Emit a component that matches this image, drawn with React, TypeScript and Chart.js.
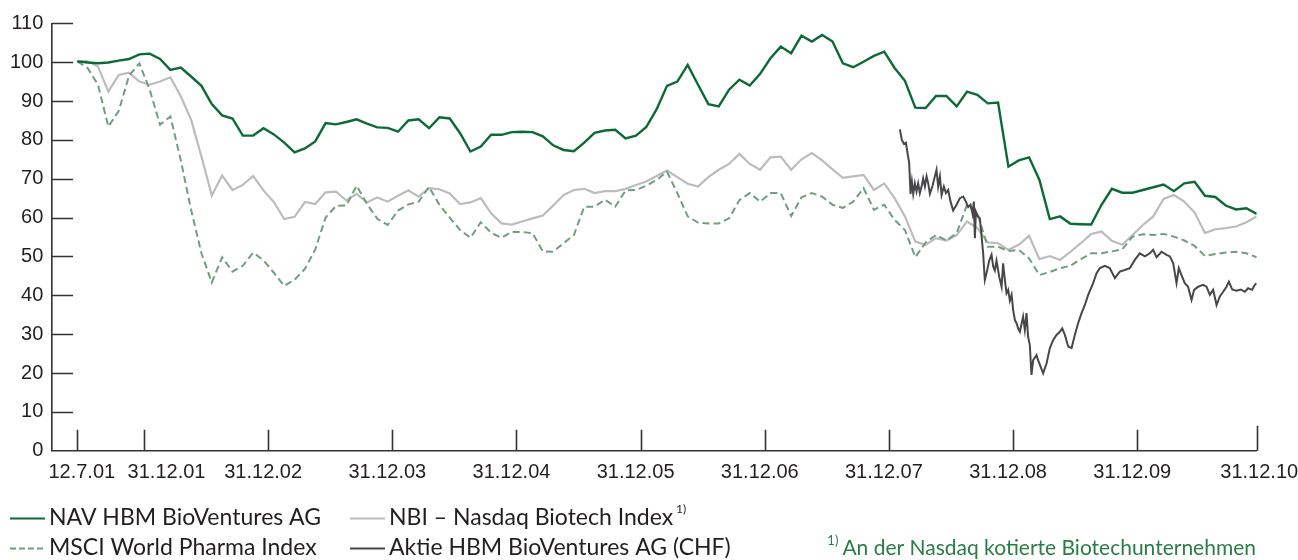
import React, { useEffect, useRef } from "react";
import { Chart, registerables } from "chart.js";

Chart.register(...registerables);

// ---- data (monthly index k = 0 .. 114, first point = 12.7.01) ----
const TICK_LABELS = ["12.7.01", "31.12.01", "31.12.02", "31.12.03", "31.12.04", "31.12.05", "31.12.06", "31.12.07", "31.12.08", "31.12.09", "31.12.10"];
const TICK_POS = [0, 6.45, 18.45, 30.45, 42.45, 54.45, 66.45, 78.45, 90.45, 102.45, 114];
const Y_TICKS = [0, 10, 20, 30, 40, 50, 60, 70, 80, 90, 100, 110];

const NAV = [
  100.2, 99.9, 99.7, 99.9, 100.4, 100.8, 102.0, 102.2, 100.8, 98.0,
  98.6, 96.3, 93.9, 89.2, 86.3, 85.5, 81.1, 81.1, 83.0, 81.4,
  79.3, 76.8, 77.8, 79.6, 84.3, 84.0, 84.6, 85.3, 84.2, 83.2,
  83.1, 82.1, 85.0, 85.3, 83.0, 85.8, 85.5, 81.7, 77.0, 78.3,
  81.3, 81.3, 82.0, 82.1, 82.0, 80.9, 78.6, 77.4, 77.1, 79.3,
  81.8, 82.4, 82.6, 80.4, 81.1, 83.3, 87.9, 93.9, 95.0, 99.3,
  94.2, 89.2, 88.6, 92.9, 95.5, 94.0, 97.0, 101.0, 104.0, 102.3,
  106.8, 105.3, 107.0, 105.3, 99.7, 98.7, 100.1, 101.6, 102.7, 98.5,
  95.2, 88.3, 88.2, 91.3, 91.3, 88.6, 92.4, 91.6, 89.4, 89.6,
  73.1, 74.7, 75.5, 69.7, 59.6, 60.3, 58.4, 58.3, 58.2, 63.3,
  67.4, 66.4, 66.4, 67.1, 67.8, 68.5, 66.8, 68.8, 69.2, 65.6,
  65.3, 63.1, 62.1, 62.4, 60.9,
];

const NBI = [
  100.2, 100.3, 98.9, 92.4, 96.7, 97.3, 95.0, 94.2, 95.0, 96.1,
  91.2, 85.2, 75.7, 65.7, 70.8, 67.1, 68.4, 70.7, 67.0, 64.0,
  59.6, 60.2, 64.0, 63.5, 66.5, 66.7, 64.4, 66.1, 63.9, 65.2,
  64.1, 65.6, 67.0, 65.4, 67.6, 67.3, 66.2, 63.5, 63.9, 65.0,
  61.1, 58.5, 58.2, 59.0, 59.8, 60.5, 63.1, 65.8, 67.1, 67.4,
  66.3, 66.8, 66.8, 67.4, 68.4, 69.3, 70.7, 72.1, 70.4, 68.7,
  68.0, 70.4, 72.3, 73.8, 76.4, 73.8, 72.3, 75.5, 75.7, 72.3,
  75.0, 76.6, 74.7, 72.4, 70.2, 70.6, 71.0, 67.1, 68.8, 65.0,
  60.3, 53.8, 53.0, 54.7, 54.1, 55.5, 59.0, 57.3, 53.6, 53.4,
  51.7, 53.0, 55.3, 49.3, 50.1, 49.1, 51.2, 53.4, 55.8, 56.4,
  54.0, 53.0, 55.5, 58.1, 60.3, 64.8, 65.8, 64.1, 61.3, 56.0,
  57.0, 57.3, 57.7, 58.8, 60.3,
];

const MSCI = [
  100.2, 98.5, 94.2, 83.4, 87.4, 96.5, 99.7, 92.9, 83.9, 86.0,
  74.8, 62.0, 50.8, 43.3, 49.8, 46.1, 47.6, 51.0, 49.0, 45.8,
  42.4, 44.0, 46.8, 51.8, 60.0, 63.0, 63.1, 68.2, 63.5, 59.7,
  58.1, 61.8, 63.4, 64.1, 67.9, 63.3, 60.0, 56.8, 54.8, 58.8,
  56.1, 54.8, 56.3, 56.3, 56.0, 51.3, 51.2, 53.4, 55.5, 62.8,
  62.8, 64.6, 62.8, 67.0, 67.1, 68.2, 69.7, 71.8, 66.3, 60.3,
  58.7, 58.5, 58.5, 59.8, 64.5, 66.3, 64.1, 66.3, 66.3, 60.4,
  65.2, 66.3, 65.4, 63.3, 62.5, 64.1, 67.6, 62.0, 63.3, 59.4,
  56.8, 49.8, 53.6, 55.5, 54.1, 56.0, 63.3, 61.1, 52.5, 52.5,
  51.4, 51.7, 49.5, 45.2, 46.0, 47.0, 47.6, 49.3, 50.8, 50.8,
  51.3, 51.8, 55.1, 55.7, 55.5, 55.8, 55.1, 54.1, 52.7, 50.1,
  50.6, 51.0, 51.2, 50.8, 49.8,
];

// Aktie HBM BioVentures AG (CHF): daily quote, sampled (x in month index)
const AKTIE_X = [
  79.51, 79.70, 79.90, 80.09, 80.25, 80.41, 80.54, 80.67, 80.80, 80.96,
  81.12, 81.28, 81.44, 81.64, 81.76, 81.93, 82.09, 82.25, 82.41, 82.67,
  82.89, 83.05, 83.21, 83.38, 83.54, 83.76, 83.96, 84.18, 84.41, 84.66,
  84.99, 85.31, 85.63, 85.89, 86.11, 86.34, 86.54, 86.66, 86.76, 86.86,
  87.05, 87.24, 87.41, 87.56, 87.72, 87.89, 88.14, 88.37, 88.53, 88.69,
  88.85, 89.11, 89.34, 89.49, 89.66, 89.82, 89.98, 90.14, 90.31, 90.46,
  90.63, 90.79, 90.94, 91.11, 91.27, 91.42, 91.59, 91.75, 91.90, 92.07,
  92.23, 92.39, 92.72, 92.87, 93.36, 93.69, 94.01, 94.33, 94.65, 94.97,
  95.20, 95.46, 95.78, 96.10, 96.42, 96.74, 97.07, 97.39, 97.71, 98.19,
  98.52, 98.84, 99.32, 99.80, 100.29, 100.77, 101.25, 101.74, 102.22, 102.70,
  103.19, 103.67, 103.99, 104.32, 104.80, 105.29, 105.61, 105.93, 106.25, 106.47,
  106.73, 107.05, 107.37, 107.70, 107.95, 108.34, 108.82, 109.15, 109.47, 109.79,
  110.12, 110.44, 110.76, 111.08, 111.31, 111.63, 112.05, 112.47, 112.85, 113.17,
  113.56, 113.82, 113.98,
];
const AKTIE_Y = [
  82.7, 80.0, 79.0, 79.3, 76.6, 74.0, 66.1, 69.3, 66.1, 68.8,
  66.7, 68.8, 66.3, 68.4, 70.1, 68.0, 70.6, 68.8, 66.1, 68.2,
  70.6, 72.3, 68.0, 70.6, 65.8, 68.0, 66.3, 67.1, 64.1, 61.8,
  63.3, 65.0, 65.4, 64.1, 62.7, 63.3, 60.9, 64.1, 54.7, 61.5,
  60.3, 59.8, 55.1, 50.8, 43.9, 45.7, 48.9, 50.4, 47.4, 46.4,
  48.9, 44.8, 42.2, 48.2, 43.9, 40.5, 41.4, 38.6, 40.1, 36.2,
  33.6, 32.8, 31.5, 30.6, 32.6, 34.5, 31.1, 35.4, 29.4, 27.2,
  19.5, 23.3, 24.6, 23.3, 19.9, 22.5, 26.4, 28.5, 29.8, 30.6,
  31.5, 29.8, 26.8, 26.4, 29.8, 32.8, 35.4, 37.5, 40.1, 43.1,
  45.7, 47.0, 47.6, 47.0, 44.4, 46.1, 46.5, 47.0, 49.1, 50.8,
  50.0, 50.8, 51.7, 49.8, 51.2, 50.4, 50.0, 48.2, 43.1, 47.0,
  45.2, 43.1, 42.2, 38.8, 41.4, 42.2, 42.7, 42.2, 40.1, 41.4,
  37.5, 39.7, 40.9, 42.2, 43.5, 41.5, 41.2, 41.5, 40.9, 41.8,
  41.4, 42.7, 43.1,
];

const SERIES_LABELS = [
  "NAV HBM BioVentures AG",
  "NBI – Nasdaq Biotech Index",
  "MSCI World Pharma Index",
  "Aktie HBM BioVentures AG (CHF)",
];
const FOOTNOTE = "An der Nasdaq kotierte Biotechunternehmen";

// ---- styles ----
const C_NAV = "#0b6a35";
const C_NBI = "#bcbcc0";
const C_MSCI = "#6f9f7b";
const C_AKTIE = "#474749";
const C_AXIS = "#333333";
const C_TEXT = "#231f20";
const C_FOOT = "#2a7d45";
const TICK_FONT = "'Liberation Sans', Arial, sans-serif";
const LEG_FONT = "Lato, 'Noto Sans', sans-serif";
// horizontal nudge of each x label relative to its tick (px)
const X_LABEL_SHIFT = [4.5, 22.5, -5, -5, -5, -5, -5, -5, -5, -5, 2.5];

const toPts = (arr: number[]) => arr.map((v, i) => ({ x: i, y: v }));

const decorPlugin = {
  id: "decor",
  afterDatasetsDraw(chart: any) {
    const { ctx, chartArea, scales } = chart;
    const { left, bottom } = chartArea;
    const xs = scales.x;
    const ys = scales.y;
    ctx.save();
    ctx.strokeStyle = C_AXIS;
    ctx.lineWidth = 1.6;
    ctx.beginPath();
    Y_TICKS.forEach((v) => {
      if (v === 0) return;
      const py = Math.round(ys.getPixelForValue(v)) + 0.5;
      ctx.moveTo(left, py);
      ctx.lineTo(left + 21, py);
    });
    TICK_POS.forEach((v, i) => {
      const px = Math.round(xs.getPixelForValue(v)) + 0.5;
      const len = i === TICK_POS.length - 1 ? 25 : 21;
      ctx.moveTo(px, bottom);
      ctx.lineTo(px, bottom - len);
    });
    ctx.stroke();
    // x tick labels
    ctx.fillStyle = C_TEXT;
    ctx.font = `20px ${TICK_FONT}`;
    ctx.textAlign = "center";
    ctx.textBaseline = "alphabetic";
    TICK_POS.forEach((v, i) => {
      const px = xs.getPixelForValue(v) + X_LABEL_SHIFT[i];
      ctx.fillText(TICK_LABELS[i], px, bottom + 27.5);
    });
    ctx.restore();
  },
  afterDraw(chart: any) {
    const { ctx } = chart;
    const ds = chart.data.datasets;
    const positions = [
      { x: 10, y: 518 },
      { x: 350, y: 518 },
      { x: 10, y: 548 },
      { x: 350, y: 548 },
    ];
    ctx.save();
    ds.forEach((d: any, i: number) => {
      const p = positions[i];
      ctx.beginPath();
      ctx.strokeStyle = d.borderColor;
      ctx.lineWidth = d.legendWidth;
      ctx.setLineDash(d.borderDash && d.borderDash.length ? [6, 3] : []);
      ctx.moveTo(p.x, p.y + 0.5);
      ctx.lineTo(p.x + 35, p.y + 0.5);
      ctx.stroke();
      ctx.setLineDash([]);
      ctx.font = `23px ${LEG_FONT}`;
      ctx.fillStyle = C_TEXT;
      ctx.textBaseline = "middle";
      ctx.textAlign = "left";
      ctx.fillText(d.label, p.x + 39, p.y);
      if (d.sup) {
        const w = ctx.measureText(d.label).width;
        ctx.font = `12px ${LEG_FONT}`;
        ctx.fillText(d.sup, p.x + 39 + w + 3, p.y - 9);
      }
    });
    // footnote
    ctx.fillStyle = C_FOOT;
    ctx.textBaseline = "middle";
    ctx.textAlign = "right";
    ctx.font = `21px ${LEG_FONT}`;
    ctx.fillText(FOOTNOTE, 1256, 548);
    const fw = ctx.measureText(FOOTNOTE).width;
    ctx.font = `13px ${LEG_FONT}`;
    ctx.fillText("1)", 1256 - fw - 4, 541);
    ctx.restore();
  },
};

export default function App() {
  const ref = useRef<HTMLCanvasElement | null>(null);
  useEffect(() => {
    if (!ref.current) return;
    const chart = new Chart(ref.current, {
      type: "line",
      data: {
        datasets: [
          { label: SERIES_LABELS[0], data: toPts(NAV), borderColor: C_NAV, borderWidth: 2.4, legendWidth: 2.2, order: 0 } as any,
          { label: SERIES_LABELS[1], sup: "1)", data: toPts(NBI), borderColor: C_NBI, borderWidth: 2.2, legendWidth: 2, order: 3 } as any,
          { label: SERIES_LABELS[2], data: toPts(MSCI), borderColor: C_MSCI, borderWidth: 2, borderDash: [7, 4], legendWidth: 2, order: 2 } as any,
          { label: SERIES_LABELS[3], data: AKTIE_X.map((x, i) => ({ x, y: AKTIE_Y[i] })), borderColor: C_AKTIE, borderWidth: 2, legendWidth: 2, order: 1 } as any,
        ],
      },
      options: {
        responsive: false,
        animation: false,
        devicePixelRatio: 1,
        parsing: false,
        elements: { point: { radius: 0 }, line: { tension: 0, fill: false } },
        layout: { padding: { left: 0, right: 41.3, top: 23.3, bottom: 0 } },
        plugins: { legend: { display: false }, tooltip: { enabled: false } },
        scales: {
          x: {
            type: "linear",
            min: -2.445,
            max: 114,
            grid: { display: false, drawTicks: false },
            border: { display: true, color: C_AXIS, width: 1.6 },
            afterBuildTicks: (scale: any) => {
              scale.ticks = TICK_POS.map((v) => ({ value: v }));
            },
            afterFit: (scale: any) => {
              scale.height = 109.3;
            },
            ticks: { display: false },
          },
          y: {
            min: 0,
            max: 110,
            grid: { display: false, drawTicks: false },
            border: { display: true, color: C_AXIS, width: 1.6 },
            afterBuildTicks: (scale: any) => {
              scale.ticks = Y_TICKS.map((v) => ({ value: v }));
            },
            afterFit: (scale: any) => {
              scale.width = 52;
            },
            ticks: {
              padding: 8.7,
              color: C_TEXT,
              font: { family: TICK_FONT, size: 20 },
            },
          },
        },
      } as any,
      plugins: [decorPlugin],
    });
    return () => chart.destroy();
  }, []);
  return (
    <div style={{ position: "fixed", left: 0, top: 0, width: 1298, height: 560, background: "#fff" }}>
      <canvas ref={ref} width={1298} height={560} style={{ display: "block", width: 1298, height: 560 }} />
    </div>
  );
}
